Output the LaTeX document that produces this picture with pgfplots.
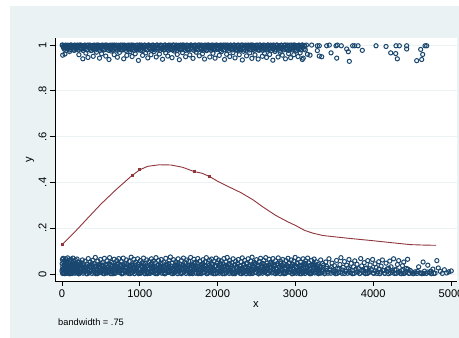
\documentclass[border=0pt]{standalone}
\usepackage{pgfplots}
\pgfplotsset{compat=1.18}
\usepackage{fontspec}
\setmainfont{Liberation Sans}
\definecolor{stnavy}{RGB}{26,71,111}
\definecolor{stmaroon}{RGB}{144,53,59}
\definecolor{stbg}{RGB}{234,242,243}

\pgfplotsset{obs/.style={only marks, mark=o, mark size=2.1bp, stnavy, mark options={line width=1bp}}}

\begin{document}
\begin{tikzpicture}
% graph region background
\fill[stbg] (-45bp,-57bp) rectangle (404bp,275bp);
\useasboundingbox (-55bp,-57bp) rectangle (404bp,281bp);
\begin{axis}[
  width=402bp, height=243bp, scale only axis,
  xmin=-90, xmax=5077, ymin=-0.031, ymax=1.031,
  axis background/.style={fill=white},
  axis x line*=bottom, axis y line*=left,
  axis line style={black, line width=0.8bp},
  tick align=outside, major tick length=5bp,
  tick style={black, line width=0.8bp},
  xtick={0,1000,2000,3000,4000,5000},
  xticklabels={0,1000,2000,3000,4000,5000},
  ytick={0,0.2,0.4,0.6,0.8,1},
  yticklabels={0,.2,.4,.6,.8,1},
  ymajorgrids, grid style={stbg, line width=0.8bp},
  ticklabel style={font=\fontsize{11.2}{13}\selectfont},
  yticklabel style={rotate=90, anchor=south},
  label style={font=\fontsize{11.2}{13}\selectfont},
  xlabel={x}, ylabel={y},
  xlabel style={at={(axis description cs:0.5,0)}, anchor=center, yshift=-24bp},
  ylabel style={at={(axis description cs:-0.0622,0.5)}, anchor=center},
]
% observations, y = 0 (jittered)
\addplot[obs] coordinates {
(0,.012)(2,.045)(5,.063)(8,.002)(11,.031)(14,.068)(17,.021)(21,.052)(24,.006)(27,.039)
(31,.058)(34,.015)(38,.001)(41,.047)(45,.027)(48,.066)(52,.009)(55,.036)(59,.055)(62,.018)
(66,.003)(70,.042)(73,.07)(77,.024)(81,.011)(84,.05)(88,.033)(92,.001)(96,.061)(99,.019)
(103,.044)(107,.005)(111,.029)(115,.064)(118,.014)(122,.038)(126,.057)(130,.002)(134,.025)(138,.048)
(142,.069)(146,.008)(150,.034)(154,.053)(158,.016)(162,.041)(166,.003)(171,.06)(175,.023)(179,.046)
(184,.011)(188,.031)(193,.065)(197,.004)(202,.037)(207,.019)(212,.052)(217,.001)(222,.043)(228,.027)
(236,.009)(244,.049)(251,.022)(262,.061)(270,.003)(277,.035)(288,.014)(296,.055)(303,.028)(314,.001)
(321,.042)(329,.017)(338,.067)(345,.006)(354,.031)(362,.052)(371,.012)(379,.038)(387,.002)(396,.059)
(404,.024)(411,.045)(420,.008)(428,.072)(437,.019)(445,.033)(452,.001)(461,.056)(469,.027)(478,.041)
(486,.005)(494,.063)(503,.016)(511,.036)(519,.049)(528,.002)(536,.026)(545,.068)(553,.011)(561,.043)
(570,.021)(578,.057)(586,.004)(595,.032)(603,.015)(612,.071)(620,.038)(628,.001)(637,.051)(645,.024)
(653,.009)(662,.046)(670,.064)(679,.018)(687,.003)(695,.035)(704,.058)(712,.013)(721,.029)(729,.067)
(737,.006)(746,.042)(754,.022)(763,.053)(771,.001)(779,.031)(788,.069)(796,.015)(804,.047)(813,.004)
(821,.026)(830,.061)(838,.011)(847,.039)(855,.002)(863,.055)(872,.019)(880,.034)(889,.073)(897,.007)
(905,.044)(914,.023)(922,.064)(931,.001)(939,.036)(947,.052)(956,.014)(964,.028)(973,.066)(981,.005)
(989,.041)(998,.019)(1006,.058)(1015,.003)(1023,.033)(1031,.049)(1040,.012)(1048,.069)(1057,.025)(1065,.001)
(1073,.046)(1082,.016)(1090,.061)(1099,.008)(1107,.037)(1115,.054)(1124,.021)(1132,.002)(1141,.043)(1149,.066)
(1157,.011)(1166,.031)(1174,.056)(1183,.004)(1191,.027)(1199,.048)(1208,.071)(1216,.017)(1225,.001)(1233,.039)
(1241,.059)(1250,.009)(1258,.034)(1267,.022)(1275,.063)(1283,.003)(1292,.045)(1300,.014)(1309,.052)(1317,.029)
(1325,.001)(1334,.068)(1342,.019)(1351,.041)(1359,.006)(1367,.033)(1376,.057)(1384,.012)(1393,.074)(1401,.024)
(1409,.002)(1418,.047)(1426,.016)(1435,.062)(1443,.031)(1451,.008)(1460,.053)(1468,.021)(1477,.038)(1485,.001)
(1493,.066)(1502,.013)(1510,.044)(1519,.027)(1527,.004)(1535,.058)(1544,.019)(1552,.035)(1561,.069)(1569,.009)
(1577,.049)(1586,.024)(1594,.002)(1603,.061)(1611,.015)(1619,.039)(1628,.055)(1636,.006)(1645,.029)(1653,.072)
(1661,.011)(1670,.043)(1678,.001)(1687,.036)(1695,.064)(1703,.018)(1712,.051)(1720,.003)(1729,.026)(1737,.047)
(1745,.067)(1754,.008)(1762,.033)(1771,.056)(1779,.014)(1787,.001)(1796,.041)(1804,.022)(1813,.062)(1821,.005)
(1829,.037)(1838,.053)(1846,.017)(1855,.071)(1863,.002)(1871,.028)(1880,.046)(1888,.011)(1897,.059)(1905,.032)
(1913,.004)(1922,.065)(1930,.021)(1939,.042)(1947,.001)(1955,.054)(1964,.015)(1972,.036)(1981,.069)(1989,.008)
(1997,.048)(2006,.025)(2014,.061)(2023,.003)(2031,.039)(2039,.013)(2048,.057)(2056,.029)(2065,.001)(2073,.044)
(2081,.067)(2090,.018)(2098,.034)(2107,.052)(2115,.006)(2123,.072)(2132,.023)(2140,.041)(2149,.002)(2157,.058)
(2165,.012)(2174,.031)(2182,.049)(2191,.004)(2199,.066)(2207,.019)(2216,.038)(2224,.001)(2233,.055)(2241,.027)
(2249,.009)(2258,.046)(2266,.063)(2275,.015)(2283,.035)(2291,.002)(2300,.053)(2308,.022)(2317,.07)(2325,.007)
(2333,.042)(2342,.017)(2350,.059)(2359,.031)(2367,.001)(2375,.048)(2384,.011)(2392,.066)(2401,.026)(2409,.004)
(2417,.039)(2426,.056)(2434,.014)(2443,.073)(2451,.002)(2459,.033)(2468,.051)(2476,.019)(2485,.043)(2493,.006)
(2501,.062)(2510,.024)(2518,.037)(2527,.001)(2535,.055)(2543,.012)(2552,.068)(2560,.029)(2569,.045)(2577,.003)
(2585,.018)(2594,.059)(2602,.034)(2611,.008)(2619,.071)(2627,.022)(2636,.047)(2644,.001)(2653,.039)(2661,.064)
(2669,.013)(2678,.028)(2686,.052)(2695,.004)(2703,.041)(2711,.067)(2720,.017)(2728,.035)(2737,.002)(2745,.057)
(2753,.024)(2762,.009)(2770,.046)(2779,.07)(2787,.015)(2795,.031)(2804,.001)(2812,.054)(2821,.021)(2829,.038)
(2837,.063)(2846,.006)(2854,.044)(2863,.026)(2871,.002)(2879,.058)(2888,.013)(2896,.036)(2905,.068)(2913,.008)
(2921,.049)(2930,.019)(2938,.033)(2947,.061)(2955,.001)(2963,.042)(2972,.023)(2980,.055)(2989,.011)(2997,.072)
(3005,.029)(3014,.003)(3022,.047)(3031,.016)(3039,.064)(3047,.035)(3056,.001)(3064,.052)(3073,.021)(3081,.039)
(3089,.007)(3098,.066)(3106,.026)(3115,.044)(3123,.002)(3131,.057)(3140,.014)(3148,.031)(3157,.069)(3165,.005)
(3173,.048)(3182,.022)(3190,.037)(3199,.001)(3207,.059)(3215,.012)(3224,.043)(3232,.027)(3241,.065)(3249,.004)
(3257,.034)(3266,.053)(3274,.009)(3283,.019)(3291,.041)(3300,.002)
(3312,.028)(3325,.061)(3338,.004)(3349,.045)(3363,.017)(3376,.001)(3390,.052)(3401,.033)(3418,.009)(3431,.066)
(3444,.022)(3457,.003)(3471,.047)(3486,.014)(3502,.036)(3515,.001)(3529,.059)(3541,.024)(3556,.006)(3572,.041)
(3585,.071)(3601,.002)(3614,.029)(3630,.054)(3643,.011)(3659,.038)(3672,.003)(3688,.063)(3703,.019)(3717,.046)
(3734,.001)(3748,.031)(3763,.057)(3779,.008)(3792,.042)(3808,.023)(3823,.002)(3839,.067)(3852,.035)(3868,.012)
(3884,.049)(3899,.001)(3914,.026)(3930,.058)(3945,.006)(3961,.039)(3976,.017)(3992,.063)(4008,.002)(4023,.044)
(4039,.028)(4054,.009)(4071,.053)(4086,.001)(4102,.034)(4118,.061)(4133,.014)(4149,.003)(4165,.047)(4181,.022)
(4197,.001)(4213,.056)(4229,.031)(4246,.007)(4262,.066)(4278,.018)(4294,.002)(4311,.041)(4327,.058)(4343,.011)
(4360,.001)(4376,.036)(4393,.052)(4409,.004)(4426,.024)(4442,.064)(4459,.002)(4476,.015)
(4512,.001)(4538,.009)(4561,.002)(4584,.031)(4602,.004)(4625,.001)(4641,.052)(4659,.012)(4683,.002)(4702,.038)
(4724,.005)(4748,.001)(4767,.021)(4795,.003)(4818,.058)(4836,.026)(4862,.011)(4889,.002)(4915,.018)(4944,.004)
(4972,.009)(5003,.013)
};
% more observations at y = 0, the crowded lower part of the band
\addplot[obs] coordinates {
(4,.02)(13,.004)(24,.038)(34,.012)(46,.03)(54,.045)(64,.008)(73,.025)(84,.016)(94,.034)(106,.001)(114,.02)
(124,.004)(133,.038)(144,.012)(154,.03)(166,.045)(174,.008)(184,.025)(193,.016)(204,.034)(214,.001)(226,.02)(234,.004)
(244,.038)(253,.012)(264,.03)(274,.045)(286,.008)(294,.025)(304,.016)(313,.034)(324,.001)(334,.02)(346,.004)(354,.038)
(364,.012)(373,.03)(384,.045)(394,.008)(406,.025)(414,.016)(424,.034)(433,.001)(444,.02)(454,.004)(466,.038)(474,.012)
(484,.03)(493,.045)(504,.008)(514,.025)(526,.016)(534,.034)(544,.001)(553,.02)(564,.004)(574,.038)(586,.012)(594,.03)
(604,.045)(613,.008)(624,.025)(634,.016)(646,.034)(654,.001)
(665,.02)(674,.004)(685,.038)(695,.012)(707,.03)(715,.045)(725,.008)(734,.025)(745,.016)(755,.034)(767,.001)(775,.02)
(785,.004)(794,.038)(805,.012)(815,.03)(827,.045)(835,.008)(845,.025)(854,.016)(865,.034)(875,.001)(887,.02)(895,.004)
(905,.038)(914,.012)(925,.03)(935,.045)(947,.008)(955,.025)(965,.016)(974,.034)(985,.001)(995,.02)(1007,.004)(1015,.038)
(1025,.012)(1034,.03)(1045,.045)(1055,.008)(1067,.025)(1075,.016)(1085,.034)(1094,.001)(1105,.02)(1115,.004)(1127,.038)(1135,.012)
(1145,.03)(1154,.045)(1165,.008)(1175,.025)(1187,.016)(1195,.034)(1205,.001)(1214,.02)(1225,.004)(1235,.038)(1247,.012)(1255,.03)
(1265,.045)(1274,.008)(1285,.025)(1295,.016)(1307,.034)(1315,.001)
(1322,.02)(1331,.004)(1342,.038)(1352,.012)(1364,.03)(1372,.045)(1382,.008)(1391,.025)(1402,.016)(1412,.034)(1424,.001)(1432,.02)
(1442,.004)(1451,.038)(1462,.012)(1472,.03)(1484,.045)(1492,.008)(1502,.025)(1511,.016)(1522,.034)(1532,.001)(1544,.02)(1552,.004)
(1562,.038)(1571,.012)(1582,.03)(1592,.045)(1604,.008)(1612,.025)(1622,.016)(1631,.034)(1642,.001)(1652,.02)(1664,.004)(1672,.038)
(1682,.012)(1691,.03)(1702,.045)(1712,.008)(1724,.025)(1732,.016)(1742,.034)(1751,.001)(1762,.02)(1772,.004)(1784,.038)(1792,.012)
(1802,.03)(1811,.045)(1822,.008)(1832,.025)(1844,.016)(1852,.034)(1862,.001)(1871,.02)(1882,.004)(1892,.038)(1904,.012)(1912,.03)
(1922,.045)(1931,.008)(1942,.025)(1952,.016)(1964,.034)(1972,.001)
(1987,.02)(1996,.004)(2007,.038)(2017,.012)(2029,.03)(2037,.045)(2047,.008)(2056,.025)(2067,.016)(2077,.034)(2089,.001)(2097,.02)
(2107,.004)(2116,.038)(2127,.012)(2137,.03)(2149,.045)(2157,.008)(2167,.025)(2176,.016)(2187,.034)(2197,.001)(2209,.02)(2217,.004)
(2227,.038)(2236,.012)(2247,.03)(2257,.045)(2269,.008)(2277,.025)(2287,.016)(2296,.034)(2307,.001)(2317,.02)(2329,.004)(2337,.038)
(2347,.012)(2356,.03)(2367,.045)(2377,.008)(2389,.025)(2397,.016)(2407,.034)(2416,.001)(2427,.02)(2437,.004)(2449,.038)(2457,.012)
(2467,.03)(2476,.045)(2487,.008)(2497,.025)(2509,.016)(2517,.034)(2527,.001)(2536,.02)(2547,.004)(2557,.038)(2569,.012)(2577,.03)
(2587,.045)(2596,.008)(2607,.025)(2617,.016)(2629,.034)(2637,.001)
(2645,.02)(2654,.004)(2665,.038)(2675,.012)(2687,.03)(2695,.045)(2705,.008)(2714,.025)(2725,.016)(2735,.034)(2747,.001)(2755,.02)
(2765,.004)(2774,.038)(2785,.012)(2795,.03)(2807,.045)(2815,.008)(2825,.025)(2834,.016)(2845,.034)(2855,.001)(2867,.02)(2875,.004)
(2885,.038)(2894,.012)(2905,.03)(2915,.045)(2927,.008)(2935,.025)(2945,.016)(2954,.034)(2965,.001)(2975,.02)(2987,.004)(2995,.038)
(3005,.012)(3014,.03)(3025,.045)(3035,.008)(3047,.025)(3055,.016)(3065,.034)(3074,.001)(3085,.02)(3095,.004)(3107,.038)(3115,.012)
(3125,.03)(3134,.045)(3145,.008)(3155,.025)(3167,.016)(3175,.034)(3185,.001)(3194,.02)(3205,.004)(3215,.038)(3227,.012)(3235,.03)
(3245,.045)(3254,.008)(3265,.025)(3275,.016)(3287,.034)(3295,.001)
(3305,.02)(3316,.004)(3330,.03)(3348,.012)(3362,.038)(3381,.008)(3398,.025)(3420,.003)(3440,.016)(3465,.03)(3490,.006)
(3510,.012)(3534,.002)(3560,.022)(3583,.008)(3607,.017)(3632,.002)(3655,.012)(3681,.026)(3704,.005)(3730,.015)(3755,.002)(3779,.021)
(3804,.009)(3829,.002)(3853,.016)(3878,.006)(3903,.024)(3927,.002)(3952,.011)(3977,.019)(4001,.004)(4026,.013)(4050,.002)(4075,.022)
(4100,.008)(4124,.016)(4149,.002)(4174,.011)(4198,.025)(4223,.004)(4247,.014)(4272,.002)(4297,.019)(4321,.007)(4346,.003)(4370,.015)
(4395,.002)(4420,.01)(4445,.021)(4468,.003)(4492,.009)(4530,.003)(4570,.011)(4612,.004)(4650,.002)(4700,.008)(4740,.012)(4780,.002)
};
% observations, y = 1 (jittered)
\addplot[obs] coordinates {
(2,1)(9,.956)(17,.993)(26,.998)(38,.961)(47,1)(58,.987)(71,.996)(84,.999)(97,.972)
(109,1)(122,.992)(137,.998)(151,.978)(163,1)(176,.995)(190,.989)(203,1)(217,.958)(229,.997)
(243,1)(255,.984)(268,.94)(281,.993)(294,1)(307,.965)(321,.999)(334,.946)(348,.991)(361,1)
(374,.976)(388,.996)(401,.951)(415,1)(428,.987)(442,.969)(455,.998)(469,1)(482,.943)(496,.994)
(509,.962)(523,1)(536,.981)(550,.997)(563,.952)(577,1)(590,.99)(604,.937)(617,.999)(631,.974)
(644,1)(658,.995)(671,.958)(685,.986)(698,1)(712,.947)(725,.993)(739,.968)(752,1)(766,.998)
(779,.979)(793,.94)(806,1)(820,.991)(833,.955)(847,.997)(860,1)(874,.971)(887,.985)(901,.95)
(914,1)(928,.996)(941,.962)(955,.988)(968,1)(982,.933)(995,.999)(1009,.977)(1022,1)(1036,.955)
(1049,.992)(1063,1)(1076,.966)(1090,.997)(1103,.944)(1117,1)(1130,.983)(1144,.958)(1157,.999)(1171,1)
(1184,.972)(1198,.994)(1211,.948)(1225,1)(1238,.987)(1252,.961)(1265,1)(1279,.998)(1292,.938)(1306,.99)
(1319,1)(1333,.966)(1346,.996)(1360,.952)(1373,1)(1387,.981)(1400,.999)(1414,.945)(1427,1)(1441,.974)
(1454,.992)(1468,1)(1481,.959)(1495,.997)(1508,.936)(1522,1)(1535,.985)(1549,.967)(1562,1)(1576,.995)
(1589,.949)(1603,1)(1616,.978)(1630,.998)(1643,.957)(1657,1)(1670,.989)(1684,.942)(1697,.999)(1711,1)
(1724,.969)(1738,.993)(1751,1)(1765,.953)(1778,.984)(1792,1)(1805,.962)(1819,.997)(1832,.939)(1846,1)
(1859,.976)(1873,.995)(1886,1)(1900,.948)(1913,.988)(1927,1)(1940,.964)(1954,.999)(1967,.943)(1981,1)
(1994,.982)(2008,.996)(2021,.955)(2035,1)(2048,.971)(2062,.992)(2075,1)(2089,.937)(2102,.998)(2116,.96)
(2129,1)(2143,.986)(2156,.95)(2170,1)(2183,.994)(2197,.967)(2210,1)(2224,.944)(2237,.979)(2251,.999)
(2264,1)(2278,.958)(2291,.991)(2305,1)(2318,.935)(2332,.973)(2345,.997)(2359,1)(2372,.953)(2386,.988)
(2399,1)(2413,.966)(2426,.999)(2440,.942)(2453,1)(2467,.983)(2480,.957)(2494,.996)(2507,1)(2521,.939)
(2534,.977)(2548,1)(2561,.993)(2575,.951)(2588,1)(2602,.964)(2615,.998)(2629,.946)(2642,1)(2656,.985)
(2669,.959)(2683,1)(2696,.995)(2710,.934)(2723,1)(2737,.972)(2750,.99)(2764,1)(2777,.948)(2791,.997)
(2804,.968)(2818,1)(2831,.956)(2845,.992)(2858,1)(2872,.94)(2885,.981)(2899,1)(2912,.963)(2926,.999)
(2939,.945)(2953,1)(2966,.987)(2980,.958)(2993,1)(3007,.974)(3020,.996)(3034,.95)(3047,1)(3061,.966)
(3074,.991)(3088,1)(3101,.943)(3115,.998)(3128,.979)(3142,1)(3155,.96)
(3089,.937)(3188,.956)(3209,1)(3282,.997)(3282,.976)(3307,.997)(3307,.952)(3338,.949)(3402,.997)(3436,1)
(3458,.966)(3522,.997)(3531,.943)(3539,1)(3590,.997)(3659,.983)(3680,.971)(3693,.929)(3736,.997)(3762,.997)
(3805,.997)(3860,.977)(4036,.997)(4165,.994)(4225,.966)(4289,.963)(4293,.997)(4310,.94)(4336,.997)(4430,.997)
(4430,.983)(4559,.932)(4610,.981)(4623,.937)(4636,.959)(4666,.997)(4687,.997)
};
% more observations at y = 1, the crowded upper part of the band
\addplot[obs] coordinates {
(9,1)(18,.99)(29,.982)(39,.996)(51,.977)(59,.987)(69,.999)(78,.984)(89,.993)(99,.979)(111,.998)(119,1)
(129,.99)(138,.982)(149,.996)(159,.977)(171,.987)(179,.999)(189,.984)(198,.993)(209,.979)(219,.998)(231,1)(239,.99)
(249,.982)(258,.996)(269,.977)(279,.987)(291,.999)(299,.984)(309,.993)(318,.979)(329,.998)(339,1)(351,.99)(359,.982)
(369,.996)(378,.977)(389,.987)(399,.999)(411,.984)(419,.993)(429,.979)(438,.998)(449,1)(459,.99)(471,.982)(479,.996)
(489,.977)(498,.987)(509,.999)(519,.984)(531,.993)(539,.979)(549,.998)(558,1)(569,.99)(579,.982)(591,.996)(599,.977)
(609,.987)(618,.999)(629,.984)(639,.993)(651,.979)(659,.998)
(670,1)(679,.99)(690,.982)(700,.996)(712,.977)(720,.987)(730,.999)(739,.984)(750,.993)(760,.979)(772,.998)(780,1)
(790,.99)(799,.982)(810,.996)(820,.977)(832,.987)(840,.999)(850,.984)(859,.993)(870,.979)(880,.998)(892,1)(900,.99)
(910,.982)(919,.996)(930,.977)(940,.987)(952,.999)(960,.984)(970,.993)(979,.979)(990,.998)(1000,1)(1012,.99)(1020,.982)
(1030,.996)(1039,.977)(1050,.987)(1060,.999)(1072,.984)(1080,.993)(1090,.979)(1099,.998)(1110,1)(1120,.99)(1132,.982)(1140,.996)
(1150,.977)(1159,.987)(1170,.999)(1180,.984)(1192,.993)(1200,.979)(1210,.998)(1219,1)(1230,.99)(1240,.982)(1252,.996)(1260,.977)
(1270,.987)(1279,.999)(1290,.984)(1300,.993)(1312,.979)(1320,.998)
(1327,1)(1336,.99)(1347,.982)(1357,.996)(1369,.977)(1377,.987)(1387,.999)(1396,.984)(1407,.993)(1417,.979)(1429,.998)(1437,1)
(1447,.99)(1456,.982)(1467,.996)(1477,.977)(1489,.987)(1497,.999)(1507,.984)(1516,.993)(1527,.979)(1537,.998)(1549,1)(1557,.99)
(1567,.982)(1576,.996)(1587,.977)(1597,.987)(1609,.999)(1617,.984)(1627,.993)(1636,.979)(1647,.998)(1657,1)(1669,.99)(1677,.982)
(1687,.996)(1696,.977)(1707,.987)(1717,.999)(1729,.984)(1737,.993)(1747,.979)(1756,.998)(1767,1)(1777,.99)(1789,.982)(1797,.996)
(1807,.977)(1816,.987)(1827,.999)(1837,.984)(1849,.993)(1857,.979)(1867,.998)(1876,1)(1887,.99)(1897,.982)(1909,.996)(1917,.977)
(1927,.987)(1936,.999)(1947,.984)(1957,.993)(1969,.979)(1977,.998)
(1992,1)(2001,.99)(2012,.982)(2022,.996)(2034,.977)(2042,.987)(2052,.999)(2061,.984)(2072,.993)(2082,.979)(2094,.998)(2102,1)
(2112,.99)(2121,.982)(2132,.996)(2142,.977)(2154,.987)(2162,.999)(2172,.984)(2181,.993)(2192,.979)(2202,.998)(2214,1)(2222,.99)
(2232,.982)(2241,.996)(2252,.977)(2262,.987)(2274,.999)(2282,.984)(2292,.993)(2301,.979)(2312,.998)(2322,1)(2334,.99)(2342,.982)
(2352,.996)(2361,.977)(2372,.987)(2382,.999)(2394,.984)(2402,.993)(2412,.979)(2421,.998)(2432,1)(2442,.99)(2454,.982)(2462,.996)
(2472,.977)(2481,.987)(2492,.999)(2502,.984)(2514,.993)(2522,.979)(2532,.998)(2541,1)(2552,.99)(2562,.982)(2574,.996)(2582,.977)
(2592,.987)(2601,.999)(2612,.984)(2622,.993)(2634,.979)(2642,.998)
(2650,1)(2659,.99)(2670,.982)(2680,.996)(2692,.977)(2700,.987)(2710,.999)(2719,.984)(2730,.993)(2740,.979)(2752,.998)(2760,1)
(2770,.99)(2779,.982)(2790,.996)(2800,.977)(2812,.987)(2820,.999)(2830,.984)(2839,.993)(2850,.979)(2860,.998)(2872,1)(2880,.99)
(2890,.982)(2899,.996)(2910,.977)(2920,.987)(2932,.999)(2940,.984)(2950,.993)(2959,.979)(2970,.998)(2980,1)(2992,.99)(3000,.982)
(3010,.996)(3019,.977)(3030,.987)(3040,.999)(3052,.984)(3060,.993)(3070,.979)(3079,.998)(3090,1)(3100,.99)(3112,.982)(3120,.996)
};
% lowess smooth
\addplot[stmaroon, line width=0.9bp, mark=square*, mark size=1bp, mark indices={1,6,7,12,14}] coordinates {
(0,.127)(150,.178)(320,.24)(500,.305)(700,.37)(900,.43)(1000,.455)(1100,.47)(1250,.477)(1400,.476)
(1550,.466)(1700,.447)(1800,.44)(1900,.425)(2000,.405)(2160,.378)(2300,.355)(2450,.325)(2585,.292)
(2750,.255)(2900,.228)(3000,.212)(3120,.19)(3225,.178)(3350,.168)(3480,.163)(3700,.155)(4000,.145)
(4250,.136)(4475,.128)(4650,.126)(4810,.125)
};
\end{axis}
\node[anchor=base west, inner sep=0pt, font=\fontsize{9.3}{11}\selectfont] at (3bp,-44bp) {bandwidth = .75};
\end{tikzpicture}
\end{document}
